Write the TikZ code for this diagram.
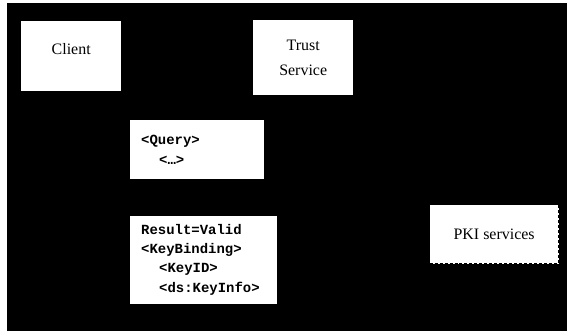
\documentclass[tikz,border=0pt]{standalone}
\usepackage{fontspec}
\setmainfont{Liberation Serif}
\setmonofont{Liberation Mono}
\usetikzlibrary{positioning}

\begin{document}
\begin{tikzpicture}[x=1bp,y=-1bp]
  \tikzstyle{entity}=[rectangle,fill=white,inner sep=0pt,align=center,font=\fontsize{16}{25}\selectfont]
  \tikzstyle{service}=[entity,draw=black,densely dashed,line width=1.2pt]
  \tikzstyle{message}=[rectangle,fill=white,inner xsep=11bp,inner ysep=0pt,align=left,font=\ttfamily\bfseries\fontsize{14}{19.5}\selectfont]

  \useasboundingbox (0,0) rectangle (567,331);
  \fill [black] (6.5,2.7) rectangle (567,331);

  % parties
  \node [entity,anchor=north west,minimum width=100bp,minimum height=70bp,text depth=15bp] (client) at (21,21) {Client};
  \node [entity,anchor=north west,minimum width=100bp,minimum height=75bp] (trust) at (253,20) {Trust\\Service};
  \node [service,anchor=north west,minimum width=129bp,minimum height=59bp] (pki) at (429,204) {PKI services};

  % messages
  \node [message,anchor=north west,text width=112bp,minimum height=59bp] (query) at (130,120)
    {<Query>\\\hspace*{18bp}<…>};
  \node [message,below=36bp of query.south west,anchor=north west,text width=125bp,minimum height=88bp] (result)
    {Result=Valid\\<KeyBinding>\\\hspace*{18bp}<KeyID>\\\hspace*{18bp}<ds:KeyInfo>};
\end{tikzpicture}
\end{document}
